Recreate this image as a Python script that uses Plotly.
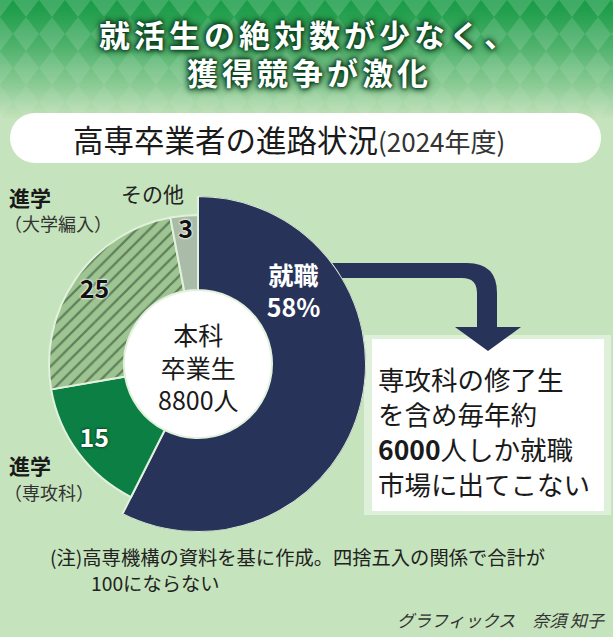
import plotly.graph_objects as go

W, H = 613, 637

# chart data
categories = ["就職", "進学（専攻科）", "進学（大学編入）", "その他"]
shares = [58, 15, 25, 3]
slice_text = ["<b>就職</b><br>58%", "15", "25", "3"]
center_text = ["本科", "卒業生", "8800人"]
title_lines = ["就活生の絶対数が少なく、", "獲得競争が激化"]
subtitle = "高専卒業者の進路状況"
subtitle_year = "(2024年度)"
callout_lines = ["専攻科の修了生", "を含め毎年約", "<b>6000</b>人しか就職", "市場に出てこない"]
note_lines = ["(注)高専機構の資料を基に作成。四捨五入の関係で合計が", "100にならない"]
credit = "グラフィックス　奈須 知子"

# styling
FONT = "Noto Sans CJK JP"
BG = "#c5e3bc"
slice_colors = ["#28335a", "#0b7f44", "#9dc491", "#a9bca8"]
slice_patterns = ["", "", "/", ""]
ring_outer = [168, 149, 149, 149]
HOLE = 74
CX, CY = 198, 364
label_r = [118, 129, 126, 133]
halo_dark = "0 0 3px #0a3d20, 0 0 2px #0a3d20"
halo_light = "0 0 3px white, 0 0 2px white, 0 0 1px white"
label_font = [
    dict(color="white", size=25, shadow="none"),
    dict(color="white", size=25, shadow=halo_dark),
    dict(color="#111", size=25, shadow=halo_light),
    dict(color="#111", size=25, shadow=halo_light),
]

total = sum(shares)
widths = [v / total * 360 for v in shares]
mids = []
acc = 0
for w in widths:
    mids.append(acc + w / 2)
    acc += w
label_theta = [54] + mids[1:]

fig = go.Figure()
# dummy trace so the pixel-space axes exist
fig.add_trace(go.Scatter(x=[None], y=[None], showlegend=False, hoverinfo="skip"))

# white centre disc
fig.add_trace(go.Barpolar(r=[HOLE, HOLE], base=[0, 0], theta=[90, 270], width=[180, 180],
                          marker=dict(color="white", line=dict(width=0)),
                          showlegend=False, hoverinfo="skip"))

for i, name in enumerate(categories):
    marker = dict(color=slice_colors[i], line=dict(color="#e2f1dc", width=2))
    if slice_patterns[i]:
        marker["pattern"] = dict(shape=slice_patterns[i], fgcolor="#1d3a24", fillmode="overlay",
                                 size=9, solidity=0.25)
    fig.add_trace(go.Barpolar(r=[ring_outer[i] - HOLE], base=[HOLE], theta=[mids[i]],
                              width=[widths[i]], marker=marker, name=name,
                              showlegend=False, hoverinfo="skip"))

for i, txt in enumerate(slice_text):
    f = label_font[i]
    fig.add_trace(go.Scatterpolar(r=[label_r[i]], theta=[label_theta[i]], mode="text", text=[txt],
                                  textposition="middle center",
                                  textfont=dict(family=FONT, size=f["size"], color=f["color"],
                                                weight="bold", shadow=f["shadow"]),
                                  showlegend=False, hoverinfo="skip"))

shapes = []

# green gradient banner
top = (26, 156, 72)
bot = (197, 227, 188)
n = 60
for i in range(n):
    t = (i / (n - 1)) ** 1.2
    c = tuple(int(top[k] + (bot[k] - top[k]) * t) for k in range(3))
    shapes.append(dict(type="rect", xref="x", yref="y", x0=0, x1=W, y0=i * 2, y1=i * 2 + 2.5,
                       fillcolor="rgb(%d,%d,%d)" % c, line=dict(width=0), layer="below"))

# diamond pattern
dw, dh = 26, 34
for j in range(4):
    for i in range(-1, 25):
        cx, cy = i * dw, j * dh
        path = "M %f,%f L %f,%f L %f,%f L %f,%f Z" % (cx, cy - dh / 2, cx + dw / 2, cy,
                                                      cx, cy + dh / 2, cx - dw / 2, cy)
        shapes.append(dict(type="path", xref="x", yref="y", path=path,
                           fillcolor="rgba(255,255,255,%.2f)" % (0.16 - j * 0.03),
                           line=dict(width=0), layer="below"))

# subtitle pill
x0, x1, y0, y1, rr = 10, 601, 113, 163, 25
k = 0.55 * rr
pill = ("M %d,%d L %d,%d C %f,%d %d,%f %d,%d C %d,%f %f,%d %d,%d L %d,%d "
        "C %f,%d %d,%f %d,%d C %d,%f %f,%d %d,%d Z") % (
    x0 + rr, y0, x1 - rr, y0, x1 - rr + k, y0, x1, y0 + rr - k, x1, y0 + rr,
    x1, y1 - rr + k, x1 - rr + k, y1, x1 - rr, y1, x0 + rr, y1,
    x0 + rr - k, y1, x0, y1 - rr + k, x0, y1 - rr, x0, y0 + rr - k, x0 + rr - k, y0, x0 + rr, y0)
shapes.append(dict(type="path", xref="x", yref="y", path=pill, fillcolor="white",
                   line=dict(width=0), layer="below"))

# callout box (soft edges)
shapes.append(dict(type="rect", xref="x", yref="y", x0=364, x1=611, y0=335, y1=515,
                   fillcolor="rgba(255,255,255,0.45)", line=dict(width=0), layer="below"))
shapes.append(dict(type="rect", xref="x", yref="y", x0=372, x1=604, y0=339, y1=511,
                   fillcolor="white", line=dict(width=0), layer="below"))

# bent arrow from the 就職 slice
arrow = ("M 320,263 L 467,263 Q 497,263 497,293 L 497,330 L 477,330 L 477,293 "
         "Q 477,278 462,278 L 320,278 Z")
shapes.append(dict(type="path", xref="x", yref="y", path=arrow, fillcolor=slice_colors[0],
                   line=dict(width=0), layer="below"))
shapes.append(dict(type="path", xref="x", yref="y", path="M 455,327 L 521,327 L 488,351 Z",
                   fillcolor=slice_colors[0], line=dict(width=0), layer="below"))

ann = []
glow = "0 0 8px #07401b, 0 0 6px #07401b, 0 0 4px #07401b, 0 0 2px #07401b"
for i, line in enumerate(title_lines):
    ann.append(dict(x=309, y=33 + i * 38,
                    text="<b><span style='letter-spacing:4px'>%s</span></b>" % line,
                    font=dict(family=FONT, size=31, color="white", shadow=glow)))
ann.append(dict(x=72, y=139, xanchor="left",
                text=subtitle + "<span style='font-size:26px;color:#333'>%s</span>" % subtitle_year,
                font=dict(family=FONT, size=30.5, color="#1a1a1a")))
ann.append(dict(x=CX, y=CY + 2, text="<br>".join(center_text),
                font=dict(family=FONT, size=25, color="#1a1a1a")))
for i, line in enumerate(callout_lines):
    ann.append(dict(x=377, y=378 + i * 35, xanchor="left", text=line,
                    font=dict(family=FONT, size=26.5, color="#1a1a1a")))

# outside slice labels
ann.append(dict(x=8, y=197, xanchor="left", text="<b>進学</b>",
                font=dict(family=FONT, size=21, color="#1a1a1a")))
ann.append(dict(x=3, y=223, xanchor="left", text="（大学編入）",
                font=dict(family=FONT, size=18, color="#333")))
ann.append(dict(x=120, y=193, xanchor="left", text="その他",
                font=dict(family=FONT, size=21, color="#222")))
ann.append(dict(x=8, y=465, xanchor="left", text="<b>進学</b>",
                font=dict(family=FONT, size=21, color="#1a1a1a")))
ann.append(dict(x=3, y=492, xanchor="left", text="（専攻科）",
                font=dict(family=FONT, size=18, color="#333")))

ann.append(dict(x=49, y=557, xanchor="left", text=note_lines[0],
                font=dict(family=FONT, size=19.3, color="#222")))
ann.append(dict(x=90, y=583, xanchor="left", text=note_lines[1],
                font=dict(family=FONT, size=19.3, color="#222")))
ann.append(dict(x=606, y=619, xanchor="right", text=credit,
                font=dict(family=FONT, size=17, color="#333", style="italic")))

for a in ann:
    a.update(xref="x", yref="y", showarrow=False, borderpad=0)
    a.setdefault("xanchor", "center")
    a.setdefault("yanchor", "middle")

fig.update_layout(
    width=W, height=H,
    margin=dict(l=0, r=0, t=0, b=0),
    paper_bgcolor=BG, plot_bgcolor="rgba(0,0,0,0)",
    xaxis=dict(range=[0, W], visible=False, fixedrange=True, domain=[0, 1]),
    yaxis=dict(range=[H, 0], visible=False, fixedrange=True, domain=[0, 1]),
    polar=dict(
        domain=dict(x=[(CX - 168) / W, (CX + 168) / W], y=[1 - (CY + 168) / H, 1 - (CY - 168) / H]),
        bgcolor="rgba(0,0,0,0)",
        radialaxis=dict(range=[0, 168], visible=False),
        angularaxis=dict(rotation=90, direction="clockwise", showgrid=False, showline=False,
                         showticklabels=False, ticks=""),
    ),
    shapes=shapes,
    annotations=ann,
    showlegend=False,
)

# the page's default body margin would push the figure 8px off the window
fig.write_html("out.html", config={"displayModeBar": False},
               post_script="document.body.style.margin='0';")
